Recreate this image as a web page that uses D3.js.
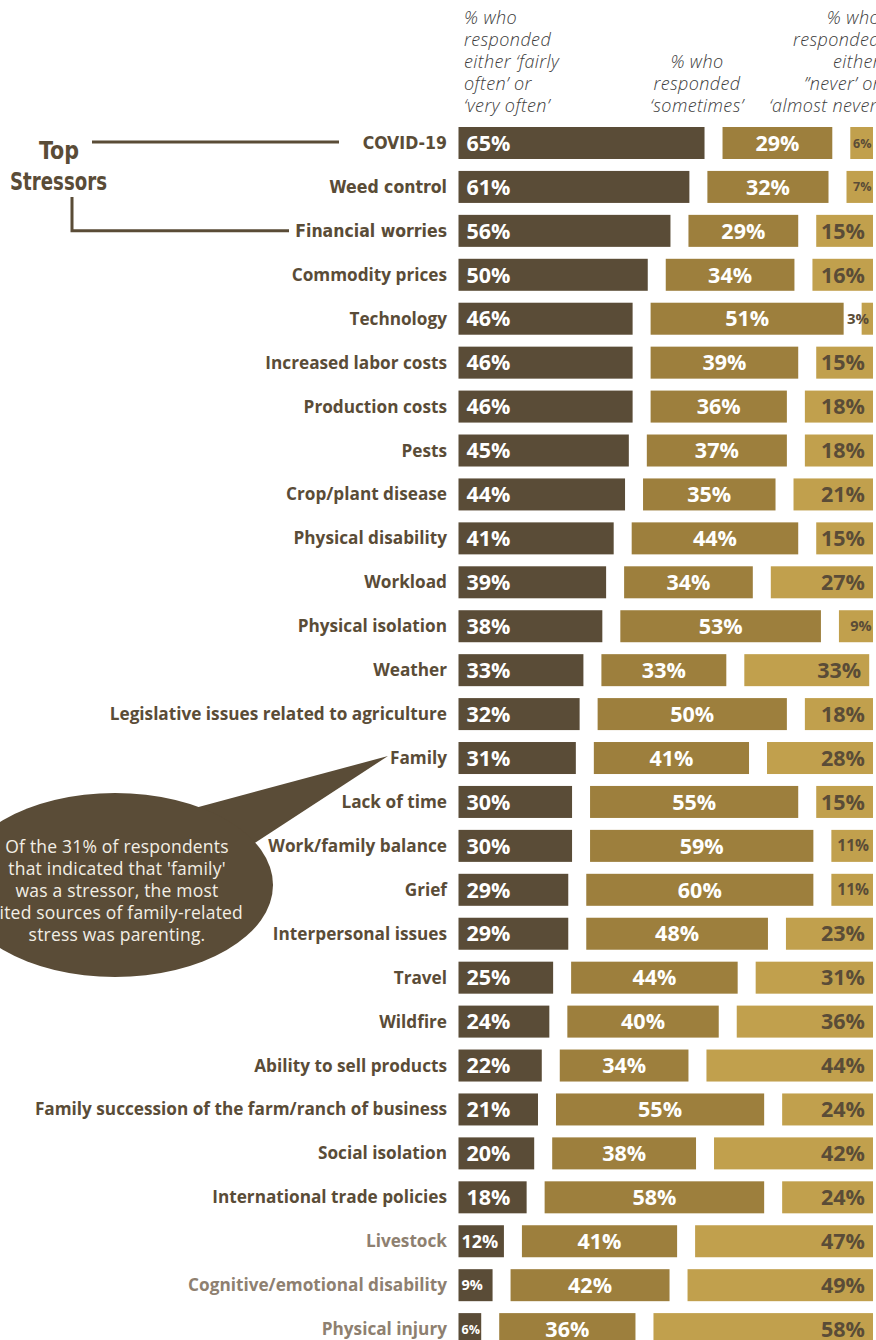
<!DOCTYPE html>
<html>
<head>
<meta charset="utf-8">
<script src="https://cdn.jsdelivr.net/npm/d3@7"></script>
<style>
  html, body { margin: 0; padding: 0; background: #ffffff; }
  svg { display: block; }
</style>
</head>
<body>
<svg id="chart" width="876" height="1340"></svg>
<script>
// Stressors, ordered by share responding 'fairly often' or 'very often'
const categories = [
  "COVID-19", "Weed control", "Financial worries", "Commodity prices", "Technology",
  "Increased labor costs", "Production costs", "Pests", "Crop/plant disease",
  "Physical disability", "Workload", "Physical isolation", "Weather",
  "Legislative issues related to agriculture", "Family", "Lack of time",
  "Work/family balance", "Grief", "Interpersonal issues", "Travel", "Wildfire",
  "Ability to sell products", "Family succession of the farm/ranch of business",
  "Social isolation", "International trade policies", "Livestock",
  "Cognitive/emotional disability", "Physical injury"
];
const oftenPct     = [65, 61, 56, 50, 46, 46, 46, 45, 44, 41, 39, 38, 33, 32, 31, 30, 30, 29, 29, 25, 24, 22, 21, 20, 18, 12, 9, 6];
const sometimesPct = [29, 32, 29, 34, 51, 39, 36, 37, 35, 44, 34, 53, 33, 50, 41, 55, 59, 60, 48, 44, 40, 34, 55, 38, 58, 41, 42, 36];
const neverPct     = [6, 7, 15, 16, 3, 15, 18, 18, 21, 15, 27, 9, 33, 18, 28, 15, 11, 11, 23, 31, 36, 44, 24, 42, 24, 47, 49, 58];
const topStressors = ["COVID-19", "Weed control", "Financial worries"];
const mutedCategories = ["Livestock", "Cognitive/emotional disability", "Physical injury"];

const headers = [
  ["% who", "responded", "either \u2018fairly", "often\u2019 or", "\u2018very often\u2019"],
  ["% who", "responded", "\u2018sometimes\u2019"],
  ["% who", "responded", "either", "\u201dnever\u2019 or", "\u2018almost never\u2019"]
];
const calloutLines = [
  "Of the 31% of respondents",
  "that indicated that 'family'",
  "was a stressor, the most",
  "cited sources of family-related",
  "stress was parenting."
];

const C_DARK = "#5a4c37", C_MID = "#9d7f3d", C_LIGHT = "#c1a04d";
const C_MUTED = "#8e8070", C_HEAD = "#3c3c3c";
const FONT = "'Open Sans', Lato, sans-serif";
const COND = "'DejaVu Sans Condensed', 'DejaVu Sans', sans-serif";

const svg = d3.select("#chart");

const rows = categories.map((c, i) => ({
  name: c,
  segs: [oftenPct[i], sometimesPct[i], neverPct[i]]
}));

// Layout
const barLeft = 458.5, gap = 18, barH = 32;
const x = d3.scaleLinear().domain([0, 100]).range([0, 378.5]);
const rowStep = 43.93;
const y = d3.scaleBand()
  .domain(categories)
  .range([127, 127 + 27 * rowStep + barH])
  .paddingInner((rowStep - barH) / rowStep)
  .paddingOuter(0);

// Column headers
const headG = svg.append("g")
  .attr("font-family", FONT)
  .attr("font-style", "italic")
  .attr("font-weight", 300)
  .attr("font-size", 18)
  .attr("letter-spacing", 0.4)
  .attr("fill", C_HEAD);
const headCfg = [
  { x: 464, anchor: "start", first: 24 },
  { x: 697, anchor: "middle", first: 68 },
  { x: 880, anchor: "end", first: 24 }
];
headers.forEach((lines, k) => {
  headG.selectAll(null).data(lines).enter().append("text")
    .attr("x", headCfg[k].x)
    .attr("y", (d, j) => headCfg[k].first + j * 22)
    .attr("text-anchor", headCfg[k].anchor)
    .text(d => d);
});

// Segment geometry per row
function segments(r) {
  let cur = barLeft;
  return r.segs.map((v, k) => {
    const s = { k, v, x0: cur, w: x(v), row: r.name };
    cur += x(v) + gap;
    return s;
  });
}
const fills = [C_DARK, C_MID, C_LIGHT];

function labelSize(v) {
  if (v >= 13) return 21.5;
  if (v === 12) return 18;
  if (v === 11) return 15.5;
  if (v >= 9) return 14.5;
  if (v >= 6) return 12.5;
  return 15;
}

const rowG = svg.append("g").selectAll("g.row").data(rows).enter().append("g")
  .attr("class", "row")
  .attr("transform", d => `translate(0,${y(d.name)})`);

rowG.selectAll("rect").data(d => segments(d)).enter().append("rect")
  .attr("x", d => d.x0)
  .attr("y", 0)
  .attr("width", d => d.w)
  .attr("height", y.bandwidth())
  .attr("fill", d => fills[d.k]);

rowG.selectAll("text.val").data(d => segments(d)).enter().append("text")
  .attr("class", "val")
  .attr("font-family", FONT)
  .attr("font-weight", 700)
  .attr("font-size", d => labelSize(d.v))
  .attr("fill", d => d.k === 2 ? C_DARK : "#ffffff")
  .attr("text-anchor", d => ["start", "middle", "end"][d.k])
  .attr("x", d => {
    const fs = labelSize(d.v);
    if (d.k === 0) return d.x0 + (fs >= 20 ? 8 : 3);
    if (d.k === 1) return d.x0 + d.w / 2;
    return d.x0 + d.w - (fs >= 20 ? 8 : fs >= 15 ? 4 : 1.5);
  })
  .attr("y", d => y.bandwidth() / 2 + labelSize(d.v) * 0.36)
  .text(d => d.v + "%");

// Category labels
rowG.append("text")
  .attr("x", 447)
  .attr("y", y.bandwidth() / 2 + 6)
  .attr("text-anchor", "end")
  .attr("font-family", d => topStressors.includes(d.name) ? COND : FONT)
  .attr("font-weight", 700)
  .attr("font-size", d => topStressors.includes(d.name) ? 17.5 : 17.2)
  .attr("fill", d => mutedCategories.includes(d.name) ? C_MUTED : C_DARK)
  .text(d => d.name);

// "Top Stressors" bracket
const yMid = name => y(name) + y.bandwidth() / 2;
const ann = svg.append("g");
ann.append("line")
  .attr("x1", 92).attr("x2", 339)
  .attr("y1", yMid("COVID-19") - 1).attr("y2", yMid("COVID-19") - 1)
  .attr("stroke", C_DARK).attr("stroke-width", 3);
ann.append("path")
  .attr("d", `M72,197 V${yMid("Financial worries")} H289`)
  .attr("fill", "none").attr("stroke", C_DARK).attr("stroke-width", 3);
const titleG = ann.append("g")
  .attr("font-family", COND)
  .attr("font-weight", 700).attr("font-size", 25)
  .attr("fill", C_DARK).attr("text-anchor", "middle");
titleG.append("text").attr("x", 59).attr("y", 159)
  .attr("textLength", 40).attr("lengthAdjust", "spacingAndGlyphs").text("Top");
titleG.append("text").attr("x", 58.5).attr("y", 190)
  .attr("textLength", 97).attr("lengthAdjust", "spacingAndGlyphs").text("Stressors");

// Family callout bubble
const famY = yMid("Family");
const bubble = svg.append("g");
bubble.append("path")
  .attr("d", `M180,812 L388,${famY - 2} L250,846 Z`)
  .attr("fill", C_DARK);
bubble.append("ellipse")
  .attr("cx", 115).attr("cy", 885).attr("rx", 158).attr("ry", 92)
  .attr("fill", C_DARK);
bubble.append("text")
  .attr("font-family", FONT).attr("font-size", 17.5)
  .attr("letter-spacing", 0.2)
  .attr("fill", "#f3efe6").attr("text-anchor", "middle")
  .selectAll("tspan").data(calloutLines).enter().append("tspan")
  .attr("x", 117).attr("y", (d, i) => 853 + i * 22)
  .text(d => d);
</script>
</body>
</html>
